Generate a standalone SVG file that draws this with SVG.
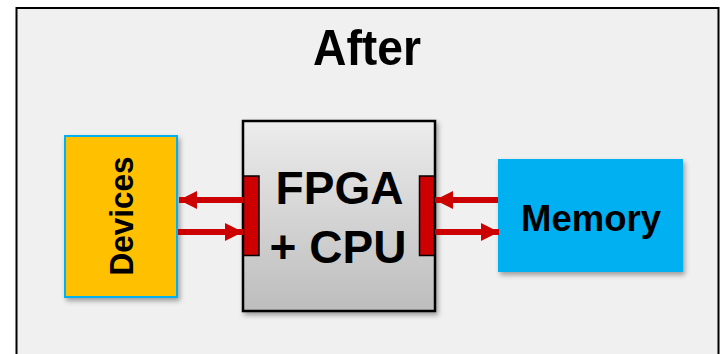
<svg xmlns="http://www.w3.org/2000/svg" width="721" height="354" viewBox="0 0 721 354">
<defs>
<linearGradient id="gFpga" x1="0" y1="0" x2="0" y2="1">
<stop offset="0" stop-color="#ececec"/>
<stop offset="1" stop-color="#bdbdbd"/>
</linearGradient>
<filter id="sh" x="-10%" y="-10%" width="130%" height="130%">
<feDropShadow dx="2" dy="3" stdDeviation="2.5" flood-color="#000" flood-opacity="0.35"/>
</filter>
<marker id="ah" viewBox="0 0 18 18" refX="18" refY="9" markerWidth="18" markerHeight="18" markerUnits="userSpaceOnUse" orient="auto">
<path d="M0,0 L18,9 L0,18 Z" fill="#cc0000"/>
</marker>
<style>
text{font-family:"Liberation Sans",Arial,sans-serif;font-weight:bold;fill:#000}
.port{fill:#cc0000;stroke:#000;stroke-width:1.5}
.conn{stroke:#cc0000;stroke-width:6;fill:none;marker-end:url(#ah)}
</style>
</defs>
<rect x="0" y="0" width="721" height="354" fill="#ffffff"/>
<rect id="frame" x="16.5" y="8" width="702" height="360" fill="#f0f0f0" stroke="#000" stroke-width="2"/>
<text x="367" y="65" font-size="50" text-anchor="middle" textLength="108" lengthAdjust="spacingAndGlyphs">After</text>
<g id="devices">
<rect x="65" y="136" width="112" height="161" fill="#ffc000" stroke="#00b0f0" stroke-width="2" filter="url(#sh)"/>
<text transform="translate(133,216) rotate(-90)" font-size="33" text-anchor="middle" textLength="119" lengthAdjust="spacingAndGlyphs">Devices</text>
</g>
<g id="fpga">
<rect x="243" y="121" width="192" height="190" fill="url(#gFpga)" stroke="#000" stroke-width="2.5" filter="url(#sh)"/>
<rect class="port" x="243.5" y="176" width="15.5" height="79.5"/>
<rect class="port" x="419.5" y="176" width="15" height="79.5"/>
<text x="339.5" y="204" font-size="46" text-anchor="middle">FPGA</text>
<text x="338" y="263" font-size="46" text-anchor="middle">+ CPU</text>
</g>
<g id="memory">
<rect x="498" y="159" width="185" height="113" fill="#00b0f0" filter="url(#sh)"/>
<text x="591" y="231" font-size="37" text-anchor="middle" textLength="140" lengthAdjust="spacingAndGlyphs">Memory</text>
</g>
<g id="connectors">
<line class="conn" x1="243" y1="200" x2="179" y2="200"/>
<line class="conn" x1="178" y1="232" x2="243" y2="232"/>
<line class="conn" x1="498" y1="200" x2="435" y2="200"/>
<line class="conn" x1="435" y1="232" x2="499" y2="232"/>
</g>
</svg>
